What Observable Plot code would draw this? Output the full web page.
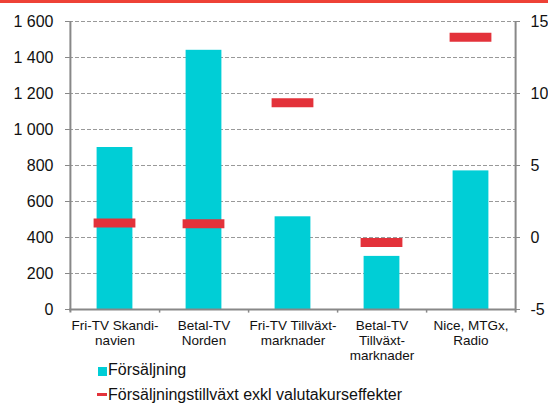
<!DOCTYPE html>
<html>
<head>
<meta charset="utf-8">
<script src="https://cdn.jsdelivr.net/npm/d3@7"></script>
<script src="https://cdn.jsdelivr.net/npm/@observablehq/plot@0.6"></script>
<style>
  html, body { margin: 0; padding: 0; background: #fff; }
  #wrap { position: relative; width: 548px; height: 403px; overflow: hidden; font-family: "Liberation Sans", Arial, sans-serif; }
  #topline { position: absolute; left: 0; top: 0; width: 548px; height: 3px; background: #ee4136; }
  .leg { position: absolute; left: 108px; font-size: 16px; color: #111; white-space: nowrap; line-height: 16px; }
  .sw { position: absolute; }
</style>
</head>
<body>
<div id="wrap">
  <div id="chart"></div>
  <div id="topline"></div>
  <div class="sw" style="left:98px; top:367px; width:9px; height:9px; background:#00CED6;"></div>
  <div class="leg" style="top:362px;">Försäljning</div>
  <div class="sw" style="left:97px; top:393px; width:10px; height:3px; background:#E3323A;"></div>
  <div class="leg" style="top:387px;">Försäljningstillväxt exkl valutakurseffekter</div>
</div>
<script>
const categories = ["Fri-TV Skandi-\nnavien", "Betal-TV\nNorden", "Fri-TV Tillväxt-\nmarknader", "Betal-TV\nTillväxt-\nmarknader", "Nice, MTGx,\nRadio"];
const sales = [900, 1440, 515, 295, 770];
const growth = [1.0, 0.95, 9.35, -0.35, 13.9];
const leftTicks = [0, 200, 400, 600, 800, 1000, 1200, 1400, 1600];
const rightTicks = [-5, 0, 5, 10, 15];

const toLeft = g => (g + 5) * 80;
const data = categories.map((c, i) => ({cat: c, sales: sales[i], growth: growth[i]}));

const W = 548, ML = 69, MR = 33;
const half = (W - ML - MR) / categories.length / 2;

const chart = Plot.plot({
  width: W,
  height: 362,
  marginLeft: ML,
  marginRight: MR,
  marginTop: 21,
  marginBottom: 53,
  style: {fontFamily: "'Liberation Sans', Arial, sans-serif", fontSize: "16px", overflow: "visible", background: "transparent"},
  x: {domain: categories, padding: 0},
  y: {domain: [0, 1600]},
  marks: [
    Plot.gridY(leftTicks.filter(d => d > 0), {stroke: "#999", strokeOpacity: 1, strokeDasharray: "4,2"}),
    Plot.barY(data, {x: "cat", y: "sales", fill: "#00CED6", insetLeft: half - 18, insetRight: half - 18}),
    Plot.tickY(data, {x: "cat", y: d => toLeft(d.growth), stroke: "#E3323A", strokeWidth: 9, insetLeft: half - 21, insetRight: half - 21}),
    Plot.ruleY([0], {stroke: "#888", strokeWidth: 2}),
    Plot.ruleX([categories[0]], {dx: -half, y1: -20, y2: 1600, stroke: "#888", strokeWidth: 2}),
    Plot.ruleX([categories[categories.length - 1]], {dx: half, y1: -20, y2: 1600, stroke: "#888", strokeWidth: 2}),
    Plot.ruleX(categories.slice(0, -1), {dx: half, y1: -20, y2: 0, stroke: "#888", strokeWidth: 1.5}),
    Plot.axisY(leftTicks, {anchor: "left", label: null, tickSize: 4, tickPadding: 12, stroke: "#888", fill: "#111", fontSize: 16,
      tickFormat: d => d3.format(",")(d).replace(/,/g, " ")}),
    Plot.axisY(rightTicks.map(toLeft), {anchor: "right", label: null, tickSize: 4, tickPadding: 11, stroke: "#888", fill: "#111", fontSize: 16,
      tickFormat: d => String(Math.round(d / 80 - 5))}),
    Plot.axisX({anchor: "bottom", label: null, tickSize: 0, tickPadding: 10, fontSize: 13.5, lineHeight: 1.12, fill: "#111"})
  ]
});
document.getElementById("chart").appendChild(chart);
</script>
</body>
</html>
